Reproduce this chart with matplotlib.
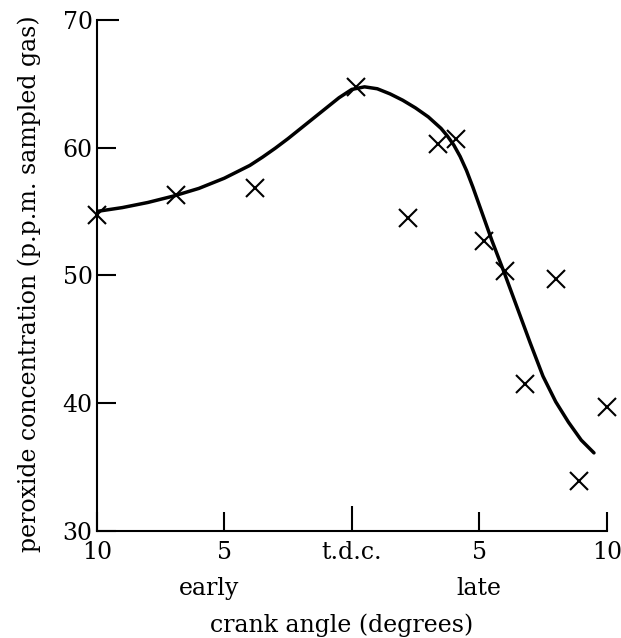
import numpy as np
import matplotlib.pyplot as plt

# pontos medidos - angulo da manivela (negativo = adiantado / early)
ang_medido = [-10, -6.9, -3.8, 0.15, 2.2, 3.4, 4.1, 5.2, 6.0, 6.8, 8.0, 8.9, 10.0]
conc_medida = [54.7, 56.3, 56.8, 64.7, 54.5, 60.3, 60.7, 52.7, 50.3, 41.5, 49.7, 33.9, 39.7]

# curva tracada a mao
ang_curva = [-10, -9, -8, -7, -6, -5.5, -5, -4.5, -4, -3.5, -3, -2.5, -2, -1.5, -1, -0.5, 0,
             0.5, 1, 1.5, 2, 2.5, 3, 3.5, 3.75, 4, 4.25, 4.5, 4.75, 5, 5.25, 5.5, 5.75, 6,
             6.5, 7, 7.5, 8, 8.5, 9, 9.5]
conc_curva = [55.0, 55.3, 55.7, 56.2, 56.8, 57.2, 57.6, 58.1, 58.6, 59.25, 59.95, 60.7, 61.5,
              62.3, 63.1, 63.9, 64.55, 64.75, 64.6, 64.2, 63.7, 63.1, 62.4, 61.5, 60.9, 60.2,
              59.3, 58.2, 56.9, 55.5, 54.1, 52.7, 51.4, 50.1, 47.4, 44.7, 42.1, 40.1, 38.5,
              37.1, 36.1]

ticks_x = [-10, -5, 0, 5, 10]
labels_x = ['10', '5', 't.d.c.', '5', '10']
ticks_y = [30, 40, 50, 60, 70]

plt.rcParams['font.family'] = ['DejaVu Serif']

fig = plt.figure(figsize=(6.21, 6.38), dpi=100)
ax = fig.add_axes([0.156, 0.168, 0.821, 0.801])

ax.plot(ang_curva, conc_curva, color='black', lw=2.5, solid_capstyle='round')
ax.plot(ang_medido, conc_medida, linestyle='none', marker='x', color='black',
        markersize=13, markeredgewidth=1.5, clip_on=False)

ax.set_xlim(-10, 10)
ax.set_ylim(30, 70)
ax.set_xticks(ticks_x)
ax.set_xticklabels(labels_x)
ax.set_yticks(ticks_y)

for lado in ['top', 'right']:
    ax.spines[lado].set_visible(False)
for lado in ['left', 'bottom']:
    ax.spines[lado].set_linewidth(1.5)

ax.tick_params(axis='both', direction='in', length=14, width=1.5, labelsize=17)
ax.tick_params(axis='x', pad=7)
ax.tick_params(axis='y', pad=3)

# tick do t.d.c. e do 70 um pouco mais compridos, como no original
ax.xaxis.get_major_ticks()[2].tick1line.set_markersize(18)
ax.yaxis.get_major_ticks()[4].tick1line.set_markersize(16)

# rotulos "early" / "late" sob os ticks de 5
ax.text(-5.6, -0.112, 'early', transform=ax.get_xaxis_transform(), ha='center', va='center', fontsize=17)
ax.text(5, -0.112, 'late', transform=ax.get_xaxis_transform(), ha='center', va='center', fontsize=17)

ax.set_xlabel('crank angle (degrees)', fontsize=17)
ax.xaxis.set_label_coords(0.48, -0.184)
ax.xaxis.label.set_va('center')
ax.set_ylabel('peroxide concentration (p.p.m. sampled gas)', fontsize=17)
ax.yaxis.set_label_coords(-0.133, 0.483)
ax.yaxis.label.set_va('center')

fig.savefig('out.png', dpi=100)
